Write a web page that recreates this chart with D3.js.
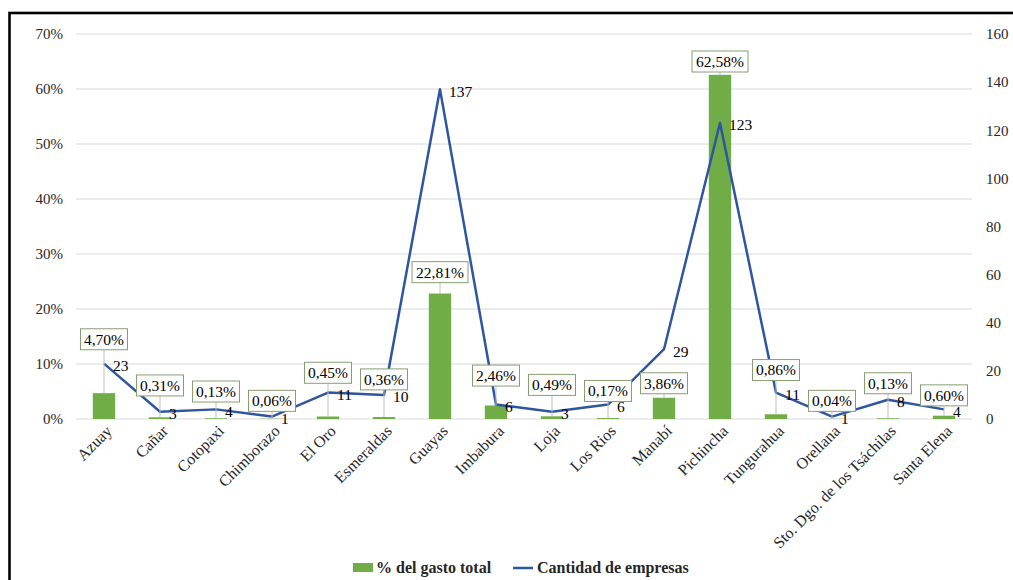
<!DOCTYPE html>
<html>
<head>
<meta charset="utf-8">
<script src="https://cdn.jsdelivr.net/npm/d3@7"></script>
<style>
  body { margin: 0; background: #fff; }
  svg, svg text { font-family: "Liberation Serif", "Times New Roman", serif; }
</style>
</head>
<body>
<div id="chart"></div>
<script>
// Datos del gráfico
const provincias = ["Azuay", "Cañar", "Cotopaxi", "Chimborazo", "El Oro", "Esmeraldas", "Guayas", "Imbabura",
    "Loja", "Los Rios", "Manabí", "Pichincha", "Tungurahua", "Orellana", "Sto. Dgo. de los Tsáchilas", "Santa Elena"];
const gastoTotal = [4.70, 0.31, 0.13, 0.06, 0.45, 0.36, 22.81, 2.46, 0.49, 0.17, 3.86, 62.58, 0.86, 0.04, 0.13, 0.60];
const empresas = [23, 3, 4, 1, 11, 10, 137, 6, 3, 6, 29, 123, 11, 1, 8, 4];
// altura (en %) donde quedaron las etiquetas del gasto, movidas a mano en el original
const posEtiqueta = [14.5, 6.1, 5.0, 3.3, 8.4, 7.2, 26.7, 7.9, 6.2, 5.1, 6.5, 65.0, 8.9, 3.3, 6.5, 4.3];
const ticksIzq = [0, 10, 20, 30, 40, 50, 60, 70];
const ticksDer = [0, 20, 40, 60, 80, 100, 120, 140, 160];

const W = 1013, H = 580;
const plot = { left: 76, right: 972, top: 34, bottom: 419 };

const svg = d3.select("#chart").append("svg")
    .attr("width", W)
    .attr("height", H);

// marco
svg.append("rect")
    .attr("x", 9.5).attr("y", 13)
    .attr("width", 1200).attr("height", 800)
    .attr("fill", "none")
    .attr("stroke", "#000")
    .attr("stroke-width", 2.6);

const x = d3.scaleBand()
    .domain(provincias)
    .range([plot.left, plot.right])
    .padding(0);

const yIzq = d3.scaleLinear().domain([0, 70]).range([plot.bottom, plot.top]);
const yDer = d3.scaleLinear().domain([0, 160]).range([plot.bottom, plot.top]);

const fmt = v => v.toFixed(2).replace(".", ",") + "%";
const serif = '"Liberation Serif", "Times New Roman", serif';

// líneas de cuadrícula
svg.append("g")
    .selectAll("line")
    .data(ticksIzq)
    .enter().append("line")
    .attr("x1", plot.left).attr("x2", plot.right)
    .attr("y1", d => yIzq(d)).attr("y2", d => yIzq(d))
    .attr("stroke", "#d9d9d9")
    .attr("stroke-width", 1);

// eje izquierdo
const ejeIzq = svg.append("g")
    .attr("transform", `translate(${plot.left - 13},0)`)
    .call(d3.axisLeft(yIzq).tickValues(ticksIzq).tickFormat(d => d + "%").tickSize(0).tickPadding(0))
    .attr("font-family", serif)
    .attr("font-size", 15);
ejeIzq.select(".domain").remove();
ejeIzq.selectAll("text").attr("fill", "#262626");

// eje derecho
const ejeDer = svg.append("g")
    .attr("transform", `translate(${plot.right + 14},0)`)
    .call(d3.axisRight(yDer).tickValues(ticksDer).tickSize(0).tickPadding(0))
    .attr("font-family", serif)
    .attr("font-size", 15);
ejeDer.select(".domain").remove();
ejeDer.selectAll("text").attr("fill", "#262626");

// etiquetas de categorías
svg.append("g")
    .selectAll("text")
    .data(provincias)
    .enter().append("text")
    .attr("transform", d => `translate(${x(d) + x.bandwidth() / 2 + 5},428) rotate(-45)`)
    .attr("text-anchor", "end")
    .attr("dy", "0.35em")
    .style("font-size", "16px")
    .attr("fill", "#262626")
    .text(d => d);

const cx = d => x(d) + x.bandwidth() / 2;
const anchoBarra = x.bandwidth() * 0.4;

// barras
svg.append("g")
    .selectAll("rect")
    .data(provincias)
    .enter().append("rect")
    .attr("x", d => cx(d) - anchoBarra / 2)
    .attr("width", anchoBarra)
    .attr("y", (d, i) => yIzq(gastoTotal[i]))
    .attr("height", (d, i) => plot.bottom - yIzq(gastoTotal[i]))
    .attr("fill", "#70ad47");

// línea de cantidad de empresas
const linea = d3.line()
    .x((d, i) => cx(provincias[i]))
    .y(d => yDer(d));

svg.append("path")
    .datum(empresas)
    .attr("d", linea)
    .attr("fill", "none")
    .attr("stroke", "#2f55a0")
    .attr("stroke-width", 2.5)
    .attr("stroke-linejoin", "round");

// etiquetas de empresas
svg.append("g")
    .selectAll("text")
    .data(empresas)
    .enter().append("text")
    .attr("x", (d, i) => cx(provincias[i]) + 9)
    .attr("y", d => yDer(d) + 2)
    .attr("dy", "0.35em")
    .style("font-size", "15.5px")
    .attr("fill", "#000")
    .text(d => d);

// etiquetas del gasto, con líneas guía
const etiquetas = svg.append("g");
provincias.forEach((p, i) => {
    const yc = yIzq(posEtiqueta[i]);
    const txt = fmt(gastoTotal[i]);
    const w = txt.length === 6 ? 56 : 47;
    const h = 21;
    const topBar = yIzq(gastoTotal[i]);
    if (topBar > yc + h / 2) {
        etiquetas.append("line")
            .attr("x1", cx(p)).attr("x2", cx(p))
            .attr("y1", yc + h / 2).attr("y2", topBar)
            .attr("stroke", "#bfbfbf")
            .attr("stroke-width", 1);
    }
    etiquetas.append("rect")
        .attr("x", cx(p) - w / 2).attr("y", yc - h / 2)
        .attr("width", w).attr("height", h)
        .attr("fill", "#fff")
        .attr("stroke", "#859f74")
        .attr("stroke-width", 1);
    etiquetas.append("text")
        .attr("x", cx(p)).attr("y", yc)
        .attr("dy", "0.35em")
        .attr("text-anchor", "middle")
        .style("font-size", "15.5px")
        .attr("fill", "#000")
        .text(txt);
});

// leyenda
const leyenda = svg.append("g");
leyenda.append("rect")
    .attr("x", 353).attr("y", 563)
    .attr("width", 20).attr("height", 9)
    .attr("fill", "#70ad47");
leyenda.append("text")
    .attr("x", 376).attr("y", 573)
    .style("font-size", "16px")
    .style("font-weight", "bold")
    .attr("fill", "#262626")
    .text("% del gasto total");
leyenda.append("line")
    .attr("x1", 513).attr("x2", 533)
    .attr("y1", 568).attr("y2", 568)
    .attr("stroke", "#2f55a0")
    .attr("stroke-width", 2.5);
leyenda.append("text")
    .attr("x", 537).attr("y", 573)
    .style("font-size", "16px")
    .style("font-weight", "bold")
    .attr("fill", "#262626")
    .text("Cantidad de empresas");
</script>
</body>
</html>
